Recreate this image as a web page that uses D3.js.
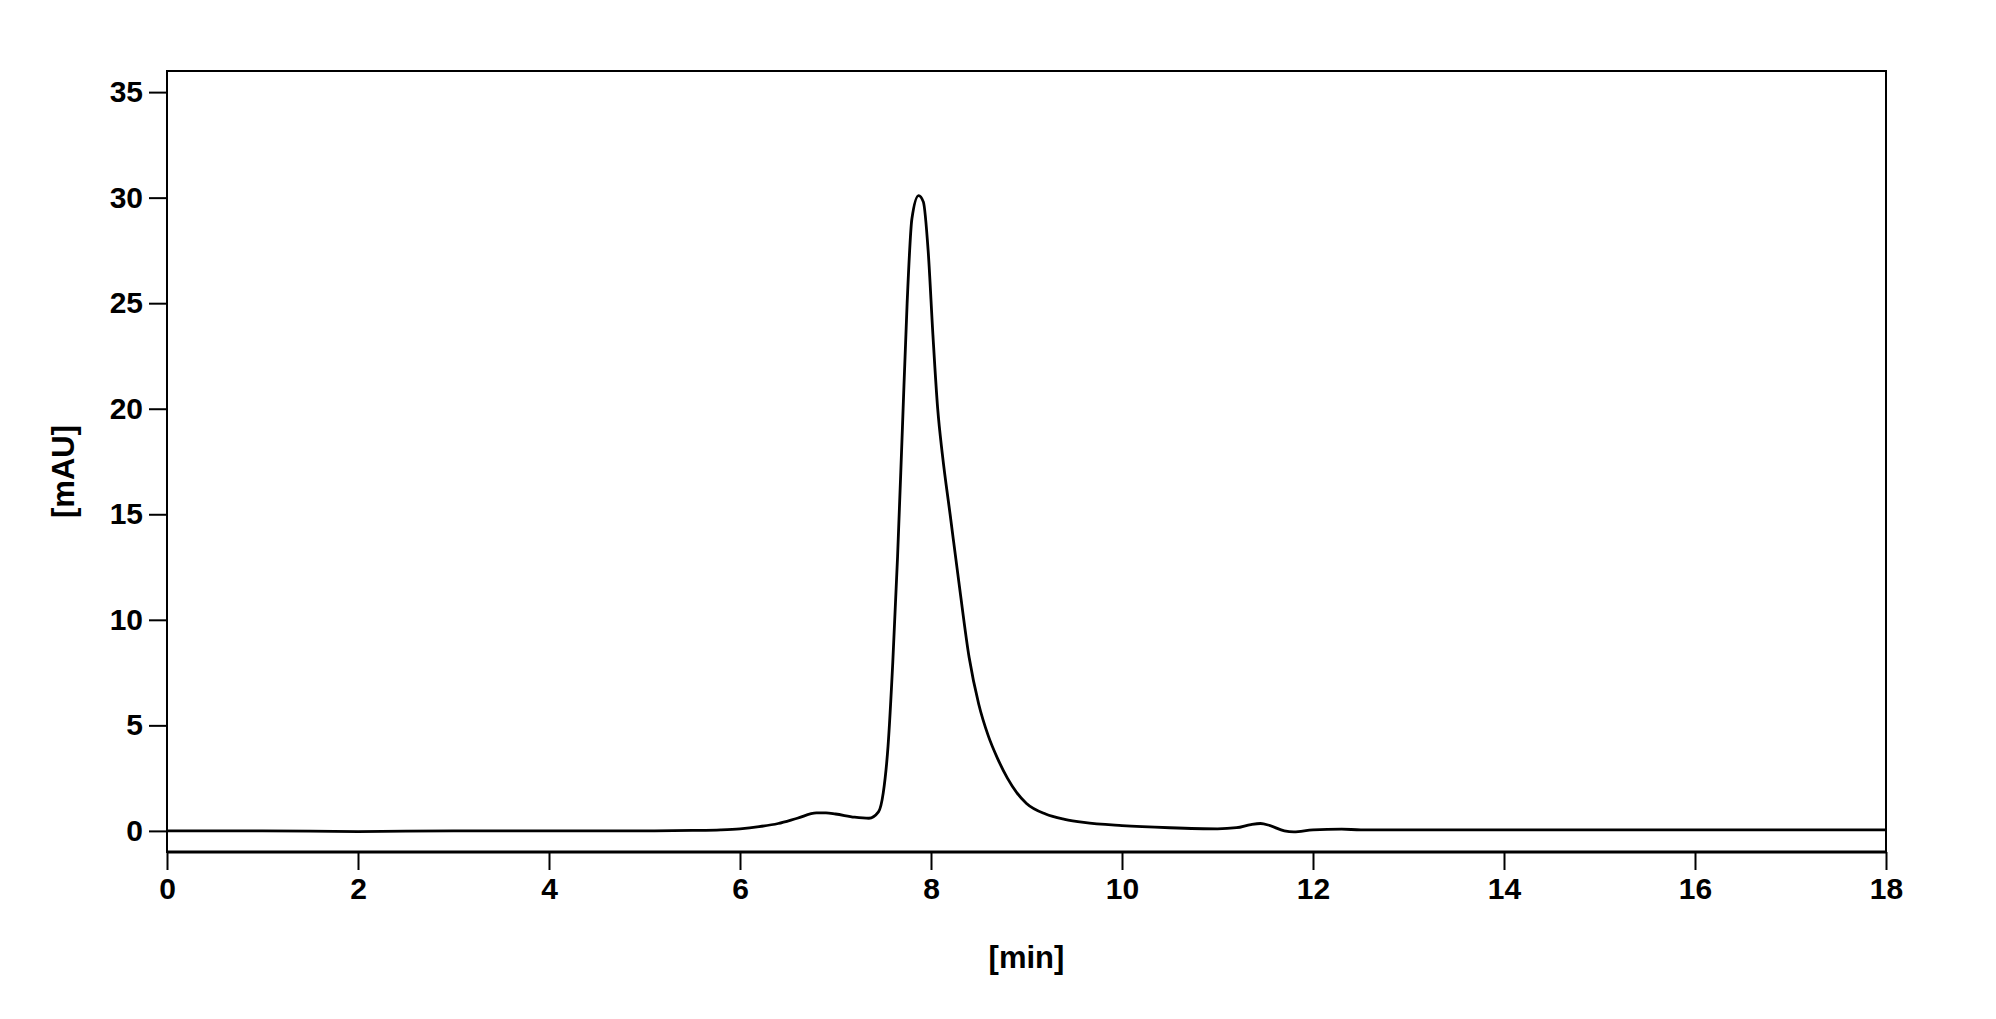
<!DOCTYPE html>
<html><head><meta charset="utf-8">
<script src="https://cdn.jsdelivr.net/npm/d3@7"></script>
<style>body{margin:0;background:#fff}text{font-family:"Liberation Sans",Arial,sans-serif;font-weight:bold}</style>
</head><body><svg id="c" width="1996" height="1019"></svg>
<script>
const timeMin=[0,1,2,3,4,5,5.5,5.8,6.0,6.2,6.4,6.6,6.8,6.9,7.0,7.2,7.35,7.45,7.5,7.55,7.6,7.65,7.7,7.75,7.8,7.87,7.92,7.97,8.02,8.07,8.12,8.2,8.3,8.4,8.5,8.6,8.7,8.8,8.9,9.0,9.2,9.4,9.6,10,10.5,11,11.2,11.35,11.45,11.55,11.7,11.8,12.0,12.3,12.5,14,16,18];
const absorbance=[0,0,-0.03,0,0,0,0.02,0.05,0.1,0.2,0.35,0.6,0.85,0.85,0.8,0.65,0.6,0.9,1.8,4,8,13,19,25,29,30.1,29.8,27.5,23.5,20,17.8,15,11.5,8.2,6,4.5,3.4,2.5,1.8,1.3,0.8,0.55,0.4,0.25,0.15,0.1,0.15,0.3,0.35,0.25,0.0,-0.05,0.05,0.08,0.05,0.05,0.05,0.05];
const xTicks=[0,2,4,6,8,10,12,14,16,18];
const yTicks=[0,5,10,15,20,25,30,35];
const svg=d3.select("#c");
const L=167,R=1886,T=71,B=852;
const x=d3.scaleLinear().domain([0,18]).range([L,R]);
const y=d3.scaleLinear().domain([-1,36]).range([B,T]);
svg.append("rect").attr("x",L).attr("y",T).attr("width",R-L).attr("height",B-T).attr("fill","none").attr("stroke","#000").attr("stroke-width",2);
svg.append("line").attr("x1",L).attr("x2",R).attr("y1",B).attr("y2",B).attr("stroke","#000").attr("stroke-width",3);
const ya=svg.append("g").attr("transform",`translate(${L},0)`).call(d3.axisLeft(y).tickValues(yTicks).tickSize(18).tickPadding(6));
const xa=svg.append("g").attr("transform",`translate(0,${B})`).call(d3.axisBottom(x).tickValues(xTicks).tickSize(18).tickPadding(8));
[ya,xa].forEach(a=>{a.select(".domain").remove();a.selectAll("line").attr("stroke-width",2);a.selectAll("text").style("font-size","30px").attr("fill","#000");});
svg.append("path").datum(timeMin.map((t,i)=>[t,absorbance[i]])).attr("fill","none").attr("stroke","#000").attr("stroke-width",2.8)
 .attr("d",d3.line().x(d=>x(d[0])).y(d=>y(d[1])).curve(d3.curveMonotoneX));
svg.append("text").attr("x",(L+R)/2).attr("y",968).attr("text-anchor","middle").style("font-size","31px").text("[min]");
svg.append("text").attr("transform",`translate(74,${(T+B)/2+10}) rotate(-90)`).attr("text-anchor","middle").style("font-size","31px").text("[mAU]");
</script></body></html>
